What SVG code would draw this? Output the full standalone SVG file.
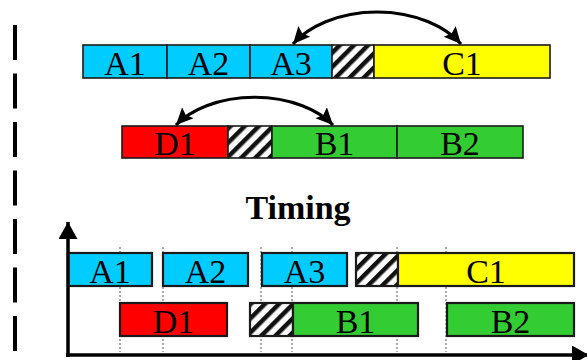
<svg xmlns="http://www.w3.org/2000/svg" width="587" height="360" viewBox="0 0 587 360">
<style>
.box{stroke:#1a1a1a;stroke-width:1.6}
.bx2{stroke:#1a1a1a;stroke-width:2.2}
.a{fill:#00CCFF}.c{fill:#FFFF00}.d{fill:#FF0000}.b{fill:#33CC33}.h{fill:url(#hatch)}
text{font-family:"Liberation Serif","Times New Roman",serif;font-size:34px;text-anchor:middle;fill:#000}
.title{font-weight:bold;font-size:34px}
.arc{fill:none;stroke:#000;stroke-width:3.2}
.dot{stroke:#555;stroke-width:1;stroke-dasharray:2 2}
.axis{stroke:#000;stroke-width:3.5;fill:none}
</style>
<defs>
<pattern id="hatch" patternUnits="userSpaceOnUse" width="10" height="10" patternTransform="rotate(45)">
<rect width="10" height="10" fill="#fff"/>
<rect width="4.5" height="10" fill="#111"/>
</pattern>
<marker id="ah" markerUnits="userSpaceOnUse" markerWidth="20" markerHeight="18" refX="17" refY="8" orient="auto-start-reverse">
<path d="M0,0 L17,8 L0,16 L3,8 z" fill="#000"/>
</marker>
<marker id="axh" markerUnits="userSpaceOnUse" markerWidth="20" markerHeight="20" refX="17" refY="9.5" orient="auto">
<path d="M0,0 L17,9.5 L0,19 z" fill="#000"/>
</marker>
</defs>

<line x1="15" y1="25" x2="15" y2="352" stroke="#000" stroke-width="4" stroke-dasharray="35 13.5"/>

<g id="top-row">
<g id="A1"><rect class="box a" x="83" y="45" width="84" height="33"/><text x="125" y="75">A1</text></g>
<g id="A2"><rect class="box a" x="167" y="45" width="83" height="33"/><text x="208.5" y="75">A2</text></g>
<g id="A3"><rect class="box a" x="250" y="45" width="82" height="33"/><text x="291" y="75">A3</text></g>
<g id="H1"><rect class="box h" x="332" y="45" width="42" height="33"/></g>
<g id="C1"><rect class="box c" x="374" y="45" width="176" height="33"/><text x="462" y="75">C1</text></g>
</g>

<g id="mid-row">
<g id="D1"><rect class="box d" x="122" y="126" width="106" height="32"/><text x="175" y="155">D1</text></g>
<g id="H2"><rect class="box h" x="228" y="126" width="44" height="32"/></g>
<g id="B1"><rect class="box b" x="272" y="126" width="125" height="32"/><text x="334.5" y="155">B1</text></g>
<g id="B2"><rect class="box b" x="397" y="126" width="126" height="32"/><text x="460" y="155">B2</text></g>
</g>

<g id="connectors">
<path class="arc" d="M293,44 A98,66 0 0 1 461,44" marker-start="url(#ah)" marker-end="url(#ah)"/>
<path class="arc" d="M176,125 A92,58 0 0 1 333,125" marker-start="url(#ah)" marker-end="url(#ah)"/>
</g>

<text class="title" x="298" y="219">Timing</text>

<g id="grid">
<line class="dot" x1="120" y1="247" x2="120" y2="352"/>
<line class="dot" x1="163" y1="247" x2="163" y2="352"/>
<line class="dot" x1="261" y1="247" x2="261" y2="352"/>
<line class="dot" x1="292" y1="247" x2="292" y2="352"/>
<line class="dot" x1="397" y1="247" x2="397" y2="352"/>
<line class="dot" x1="446" y1="247" x2="446" y2="352"/>
</g>

<g id="timeline-row1">
<g id="tA1"><rect class="bx2 a" x="68" y="253" width="84" height="33"/><text x="110" y="283">A1</text></g>
<g id="tA2"><rect class="bx2 a" x="163" y="253" width="85" height="33"/><text x="205.5" y="283">A2</text></g>
<g id="tA3"><rect class="bx2 a" x="262" y="253" width="85" height="33"/><text x="304.5" y="283">A3</text></g>
<g id="tH1"><rect class="bx2 h" x="356" y="253" width="42" height="33"/></g>
<g id="tC1"><rect class="bx2 c" x="398" y="253" width="176" height="33"/><text x="486" y="283">C1</text></g>
</g>

<g id="timeline-row2">
<g id="tD1"><rect class="bx2 d" x="120" y="303" width="107" height="33"/><text x="173.5" y="333">D1</text></g>
<g id="tH2"><rect class="bx2 h" x="250" y="303" width="43" height="33"/></g>
<g id="tB1"><rect class="bx2 b" x="293" y="303" width="125" height="33"/><text x="355.5" y="333">B1</text></g>
<g id="tB2"><rect class="bx2 b" x="447" y="303" width="127" height="33"/><text x="510.5" y="333">B2</text></g>
</g>

<g id="axes">
<path class="axis" d="M68,357 L68,222" marker-end="url(#axh)"/>
<path class="axis" d="M66,355 L589,355" marker-end="url(#axh)"/>
</g>
</svg>
